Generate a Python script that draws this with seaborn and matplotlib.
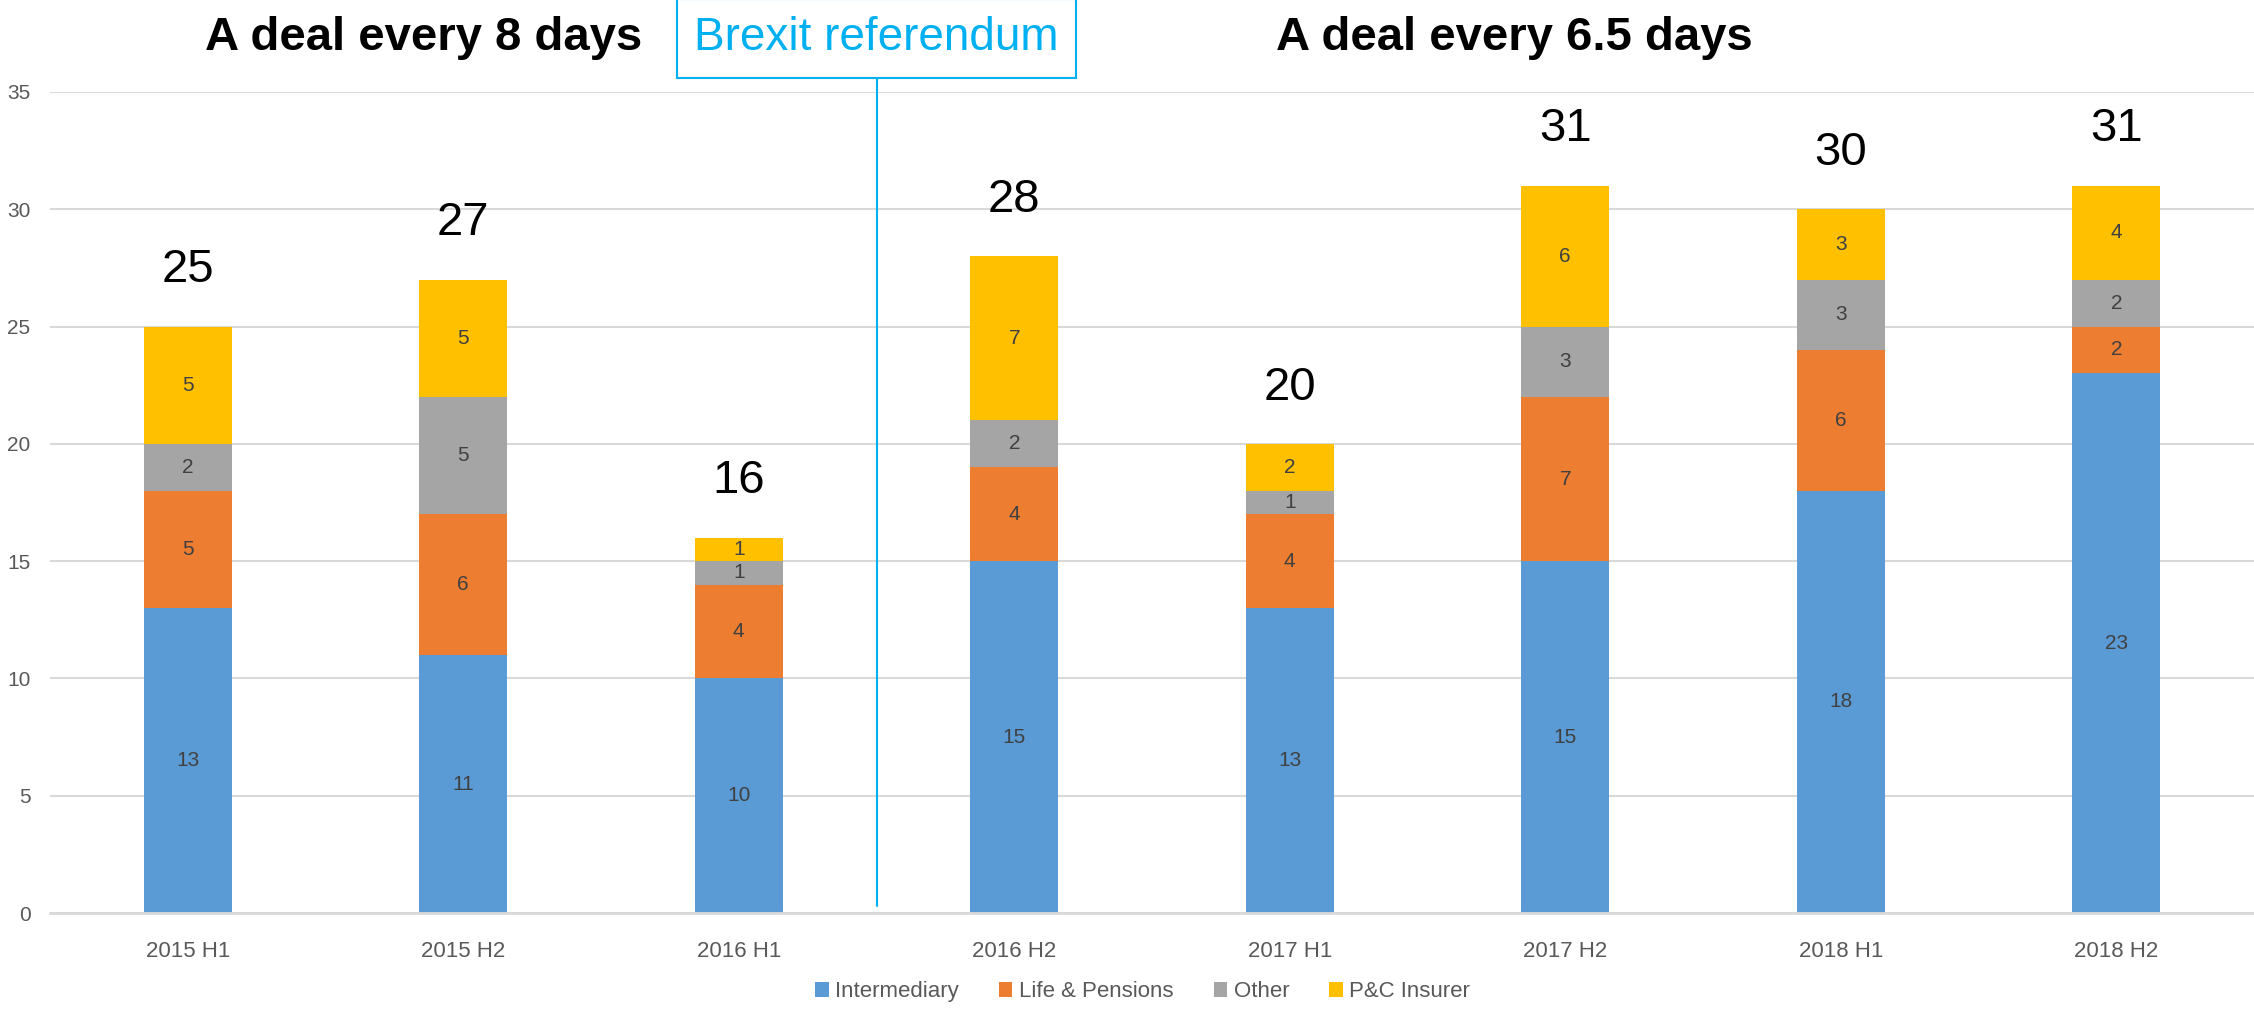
import matplotlib
matplotlib.use("Agg")
import matplotlib.pyplot as plt
import matplotlib.transforms as mtransforms
from matplotlib.patches import Patch
import numpy as np
import pandas as pd
import seaborn as sns

periods = ["2015 H1", "2015 H2", "2016 H1", "2016 H2", "2017 H1", "2017 H2", "2018 H1", "2018 H2"]
intermediary = [13, 11, 10, 15, 13, 15, 18, 23]
life_pensions = [5, 6, 4, 4, 4, 7, 6, 2]
other = [2, 5, 1, 2, 1, 3, 3, 2]
pc_insurer = [5, 5, 1, 7, 2, 6, 3, 4]
series_names = ["Intermediary", "Life & Pensions", "Other", "P&C Insurer"]
colors = ["#5B9BD5", "#ED7D31", "#A5A5A5", "#FFC000"]
y_ticks = [0, 5, 10, 15, 20, 25, 30, 35]
title_left = "A deal every 8 days"
title_right = "A deal every 6.5 days"
event_label = "Brexit referendum"

sns.set_theme(style="white")
plt.rcParams["font.family"] = ["Liberation Sans", "DejaVu Sans"]

fig = plt.figure(figsize=(22.54, 10.10), dpi=100)
ax = fig.add_axes([0.0222, 0.096, 0.9778, 0.813])

series = [intermediary, life_pensions, other, pc_insurer]
cum = np.cumsum(np.array(series), axis=0)
df = pd.DataFrame({"period": periods})
for i in range(4):
    df[f"c{i}"] = cum[i]

bar_w = 0.32
for i in range(3, -1, -1):
    sns.barplot(data=df, x="period", y=f"c{i}", color=colors[i], width=bar_w,
                saturation=1, ax=ax, linewidth=0, zorder=2)

# segment labels
for j in range(len(periods)):
    base = 0
    for i in range(4):
        v = series[i][j]
        ax.text(j, base + v / 2, str(v), ha="center", va="center",
                fontsize=15, color="#404040", zorder=4)
        base += v
    ax.text(j, base + 2.4, str(base), ha="center", va="center",
            fontsize=34, color="black", zorder=4)

ax.set_xlim(-0.5, 7.5)
ax.set_ylim(0, 35)
ax.set_yticks(y_ticks)
ax.set_xlabel("")
ax.set_ylabel("")
ax.yaxis.grid(True, color="#D9D9D9", linewidth=1.5, zorder=0)
ax.set_axisbelow(True)
for s in ["top", "right", "left"]:
    ax.spines[s].set_visible(False)
ax.spines["bottom"].set_color("#D9D9D9")
ax.spines["bottom"].set_linewidth(2)
ax.tick_params(axis="y", length=0, pad=14, labelsize=15, labelcolor="#595959")
ax.tick_params(axis="x", length=0, pad=20, labelsize=16, labelcolor="#595959")

trans = mtransforms.blended_transform_factory(ax.transData, fig.transFigure)
ax.text(0.855, 0.962, title_left, transform=trans, ha="center", va="center",
        fontsize=34, fontweight="bold", color="black")
ax.text(4.815, 0.962, title_right, transform=trans, ha="center", va="center",
        fontsize=34, fontweight="bold", color="black")

ax.plot([2.5, 2.5], [0.3, 35.7], color="#00B0F0", linewidth=1.5, clip_on=False, zorder=3)
ax.text(2.5, 0.962, event_label, transform=trans, ha="center", va="center",
        fontsize=33, color="#00B0F0",
        bbox=dict(boxstyle="square,pad=0.38", facecolor="white", edgecolor="#00B0F0", linewidth=1.5))

handles = [Patch(facecolor=c, edgecolor="none", label=n) for c, n in zip(colors, series_names)]
leg = fig.legend(handles=handles, loc="center", bbox_to_anchor=(0.507, 0.018), ncol=4,
                 frameon=False, fontsize=16, handlelength=0.6, handleheight=0.6,
                 handletextpad=0.3, columnspacing=1.8)
for t in leg.get_texts():
    t.set_color("#595959")

fig.savefig("out.png", dpi=100)
